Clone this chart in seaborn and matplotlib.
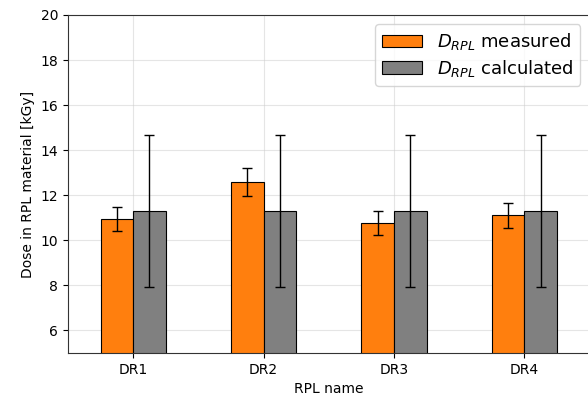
import pandas as pd
import matplotlib
matplotlib.use("Agg")
import matplotlib.pyplot as plt
import seaborn as sns

names = ["DR1", "DR2", "DR3", "DR4"]
measured = [10.95, 12.59, 10.77, 11.11]
measured_err = [0.55, 0.62, 0.53, 0.56]
calculated = [11.31, 11.31, 11.31, 11.31]
calculated_err = [3.38, 3.38, 3.38, 3.38]

label_meas = r"$D_{RPL}$ measured"
label_calc = r"$D_{RPL}$ calculated"

data = pd.DataFrame({
    "name": names * 2,
    "dose": measured + calculated,
    "err": measured_err + calculated_err,
    "kind": [label_meas] * 4 + [label_calc] * 4,
})

fig = plt.figure(figsize=(5.88, 4.03), dpi=100)
ax = fig.add_axes([68 / 588, 50 / 403, 521.5 / 588, 338 / 403])

sns.barplot(data=data, x="name", y="dose", hue="kind", ax=ax,
            palette=["#ff7f0e", "#808080"], saturation=1, width=0.5, gap=0,
            edgecolor="black", linewidth=0.8, errorbar=None)

# error bars at the bar centres
bars = [p for p in ax.patches if p.get_height() > 0][:8]
xs = [p.get_x() + p.get_width() / 2 for p in bars]
tops = [p.get_height() for p in bars]
ax.errorbar(xs, tops, yerr=data["err"], fmt="none", ecolor="black",
            elinewidth=1, capsize=3.5, capthick=1, zorder=5)

ax.set_ylim(5, 20)
ax.set_xlim(-0.5, 3.5)
ax.set_yticks(range(6, 21, 2))
ax.set_xlabel("RPL name")
ax.set_ylabel("Dose in RPL material [kGy]")
ax.grid(True, color="#cccccc", alpha=0.5, linewidth=0.8)
ax.set_axisbelow(True)
for s in ax.spines.values():
    s.set_color("#333333")
ax.legend(loc="upper right", fontsize=13, title=None,
          labelspacing=0.3, handlelength=2.2, handleheight=0.7)

fig.savefig("out.png", dpi=100)
